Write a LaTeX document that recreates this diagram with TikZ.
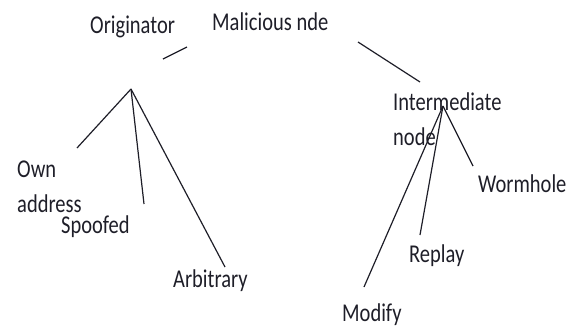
\documentclass[tikz,border=0pt]{standalone}
\usepackage{fontspec}
\setmainfont{Carlito}
\usepackage{tikz}
\definecolor{inkgray}{RGB}{30,30,40}
\tikzset {
  % text labels of the attack tree
  lbl/.style={font=\fontsize{20.5}{28}\selectfont, text=inkgray, inner sep=0pt, anchor=base west, yscale=1.25, align=left},
  % plain branches
  branch/.style={draw=inkgray, line width=1.2pt},
}

\begin{document}
\begin{tikzpicture}[x=1pt, y=1pt]
        \useasboundingbox (0,0) rectangle (574,-327);

        \node[lbl] (orig) at (90,-33) {Originator};
        \node[lbl] (mal) at (212,-30) {Malicious nde};
        \node[lbl] (inter) at (393,-145) {Intermediate\\node};

        \node[lbl] (own) at (17,-212) {Own\\address};
        \node[lbl] (spoof) at (61,-233) {Spoofed};
        \node[lbl] (arb) at (173,-287) {Arbitrary};

        \node[lbl] (worm) at (478,-192) {Wormhole};
        \node[lbl] (replay) at (409,-262) {Replay};
        \node[lbl] (modify) at (342,-321) {Modify};

        % branch points and loose ends
        \coordinate (oapex) at (131,-89);
        \coordinate (iapex) at (443,-106);
        \coordinate (m1) at (163,-59);
        \coordinate (m2) at (187,-47);
        \coordinate (m3) at (358,-42);
        \coordinate (m4) at (420,-82);
        \coordinate (ownend) at (77,-148);
        \coordinate (spoofend) at (144,-204);
        \coordinate (arbend) at (225,-267);
        \coordinate (modend) at (364,-287);
        \coordinate (repend) at (420,-235);
        \coordinate (wormend) at (473,-166);

        \draw [branch] (m1) to (m2);
        \draw [branch] (m3) to (m4);

        \draw [branch] (oapex) to (ownend);
        \draw [branch] (oapex) to (spoofend);
        \draw [branch] (oapex) to (arbend);

        \draw [branch] (iapex) to (modend);
        \draw [branch] (iapex) to (repend);
        \draw [branch] (iapex) to (wormend);
      \end{tikzpicture}
\end{document}
